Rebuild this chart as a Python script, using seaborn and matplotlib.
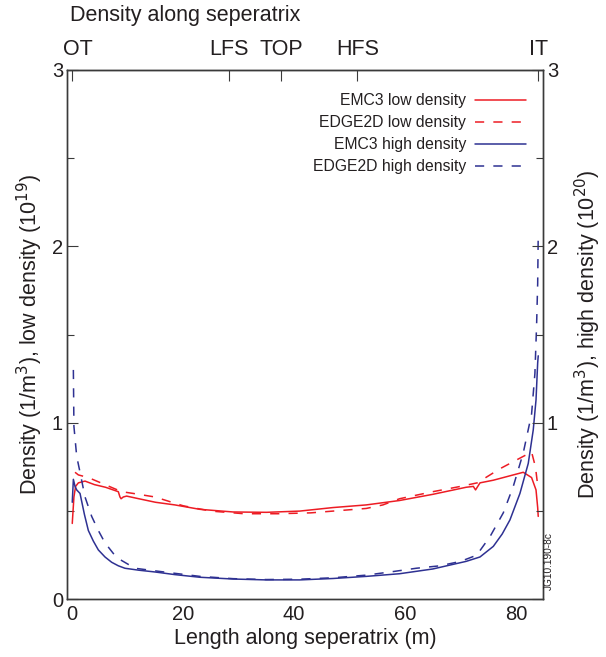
import matplotlib
matplotlib.use("Agg")
import matplotlib.pyplot as plt
import matplotlib.transforms as mtransforms
import seaborn as sns

# ---------------- data ----------------
emc3_low_x = [0.0, 0.3, 0.6, 1.1, 2.3, 4.0, 6.0, 8.3, 8.6, 8.8, 9.2, 9.8, 12.0, 15.0,
              18.5, 23.0, 29.0, 35.0, 41.0, 47.0, 53.0, 59.0, 65.0, 71.0, 72.3, 72.7,
              73.5, 75.9, 78.9, 81.3, 82.8, 83.6, 83.9, 84.0]
emc3_low_y = [0.43, 0.58, 0.64, 0.66, 0.67, 0.65, 0.635, 0.61, 0.58, 0.57, 0.58, 0.585,
              0.57, 0.55, 0.535, 0.51, 0.495, 0.493, 0.50, 0.52, 0.535, 0.56, 0.595,
              0.635, 0.64, 0.62, 0.66, 0.675, 0.70, 0.72, 0.69, 0.62, 0.52, 0.47]

edge_low_x = [0.5, 1.1, 2.9, 5.9, 8.9, 11.0, 14.9, 20.0, 25.0, 31.0, 37.0, 43.0, 47.0,
              53.0, 56.0, 59.0, 65.0, 70.0, 73.0, 77.1, 80.7, 82.8, 83.5, 84.0]
edge_low_y = [0.72, 0.705, 0.69, 0.65, 0.61, 0.60, 0.58, 0.53, 0.50, 0.485, 0.485, 0.49,
              0.50, 0.515, 0.535, 0.57, 0.61, 0.64, 0.66, 0.74, 0.80, 0.835, 0.75, 0.62]

emc3_high_x = [0.0, 0.2, 0.5, 0.8, 1.4, 2.2, 2.9, 3.8, 4.7, 5.9, 7.1, 8.3, 9.5, 12.0,
               14.9, 18.5, 23.0, 29.0, 35.0, 41.0, 47.0, 53.0, 59.0, 65.0, 71.0, 73.5,
               75.9, 77.5, 78.9, 80.7, 82.2, 83.1, 83.6, 83.9, 84.0]
emc3_high_y = [0.55, 0.68, 0.64, 0.62, 0.60, 0.48, 0.39, 0.33, 0.28, 0.24, 0.21, 0.19,
               0.176, 0.165, 0.155, 0.14, 0.125, 0.115, 0.11, 0.11, 0.118, 0.13,
               0.145, 0.172, 0.215, 0.24, 0.30, 0.37, 0.45, 0.60, 0.77, 0.96, 1.13,
               1.34, 1.38]

edge_high_x = [0.2, 0.3, 0.8, 1.4, 2.3, 3.5, 4.7, 5.9, 7.4, 8.9, 11.3, 16.5, 23.0, 29.0,
               35.0, 41.0, 47.0, 53.0, 58.0, 62.0, 66.3, 70.0, 72.9, 75.3, 77.7, 79.5,
               81.3, 82.8, 83.4, 83.7, 83.9, 84.0]
edge_high_y = [1.30, 0.98, 0.81, 0.72, 0.58, 0.47, 0.39, 0.32, 0.26, 0.22, 0.176, 0.155,
               0.13, 0.117, 0.112, 0.114, 0.122, 0.137, 0.158, 0.176, 0.19, 0.215, 0.25,
               0.355, 0.49, 0.64, 0.83, 1.05, 1.28, 1.55, 1.79, 2.07]

series_labels = ["EMC3 low density", "EDGE2D low density",
                 "EMC3 high density", "EDGE2D high density"]

x_ticks = [0, 20, 40, 60, 80]
y_ticks = [0, 1, 2, 3]
y_minor = [0.5, 1.5, 2.5]
right_labels = ["", "1", "2", "3"]
top_ticks = [0.0, 28.3, 37.6, 51.4, 84.0]
top_labels = ["OT", "LFS", "TOP", "HFS", "IT"]

# ---------------- style ----------------
sns.set_style("white")
plt.rcParams["font.family"] = ["Liberation Sans", "DejaVu Sans"]
TXT = "#231f20"
SPINE = "#3a3a3a"
RED = "#ed1c24"
BLUE = "#2e3192"

fig = plt.figure(figsize=(6.06, 6.57), dpi=100)
ax = fig.add_axes([0.111, 0.0878, 0.7845, 0.8057])

lw = 1.1
dash = (0, (6, 6))
sns.lineplot(x=emc3_low_x, y=emc3_low_y, ax=ax, color=RED, linewidth=lw,
             estimator=None, sort=False, label=series_labels[0])
sns.lineplot(x=edge_low_x, y=edge_low_y, ax=ax, color=RED, linewidth=lw,
             linestyle=dash, estimator=None, sort=False, label=series_labels[1])
sns.lineplot(x=emc3_high_x, y=emc3_high_y, ax=ax, color=BLUE, linewidth=lw,
             estimator=None, sort=False, label=series_labels[2])
sns.lineplot(x=edge_high_x, y=edge_high_y, ax=ax, color=BLUE, linewidth=lw,
             linestyle=dash, estimator=None, sort=False, label=series_labels[3])

ax.set_xlim(-0.9, 84.8)
ax.set_ylim(0, 3)
ax.set_xticks(x_ticks)
ax.set_xticklabels([str(v) for v in x_ticks])
ax.set_yticks(y_ticks)
ax.set_yticklabels([str(v) for v in y_ticks])
ax.set_yticks(y_minor, minor=True)

for s in ax.spines.values():
    s.set_color(SPINE)
    s.set_linewidth(1.0)

tick_fs = 14.5
ax.tick_params(axis="both", which="major", direction="in", length=8, width=0.8,
               colors=SPINE, labelcolor=TXT, labelsize=tick_fs)
ax.tick_params(axis="x", pad=4)
ax.tick_params(axis="y", which="major", pad=3)
ax.tick_params(axis="y", which="minor", direction="in", length=5, width=0.8,
               colors=SPINE)

ax.set_xlabel("Length along seperatrix (m)", fontsize=15.5, color=TXT, labelpad=3)
ax.set_ylabel("Density (1/m$^3$), low density (10$^{19}$)", fontsize=15.5, color=TXT)
ax.yaxis.set_label_coords(-0.047, 0.5)

# top axis with region markers
top = ax.secondary_xaxis("top")
top.set_xticks(top_ticks)
top.set_xticklabels(top_labels)
top.tick_params(direction="in", length=8, width=0.8, colors=SPINE,
                labelcolor=TXT, labelsize=15.5, pad=7)
top.spines["top"].set_color(SPINE)
lbls = top.get_xticklabels()
off = mtransforms.ScaledTranslation(6 / 100, 0, fig.dpi_scale_trans)
lbls[0].set_transform(lbls[0].get_transform() + off)

# legend (drawn on main axes)
leg = ax.legend(loc="upper right", bbox_to_anchor=(0.964, 0.956), frameon=False,
                markerfirst=False, fontsize=11.3, handlelength=3.2,
                handletextpad=0.6, labelspacing=0.45, borderpad=0,
                borderaxespad=0)
for t in leg.get_texts():
    t.set_color(TXT)

# right axis (same scale, high density units)
ax2 = ax.twinx()
ax2.set_ylim(0, 3)
ax2.set_yticks(y_ticks)
ax2.set_yticklabels(right_labels)
ax2.set_yticks(y_minor, minor=True)
ax2.tick_params(which="major", direction="in", length=8, width=0.8, colors=SPINE,
                labelcolor=TXT, labelsize=tick_fs, pad=3)
ax2.tick_params(which="minor", direction="in", length=5, width=0.8, colors=SPINE)
for s in ax2.spines.values():
    s.set_color(SPINE)
    s.set_linewidth(1.0)
ax2.set_ylabel("Density (1/m$^3$), high density (10$^{20}$)", fontsize=15.5,
               color=TXT)
ax2.yaxis.set_label_coords(1.064, 0.5)
ax2.grid(False)

# title and figure id
fig.text(69.5 / 606, 1 - 16 / 657, "Density along seperatrix", fontsize=15.5,
         color=TXT, ha="left", va="center")
ax2.text(1.014, 0.073, "JG10.190-8c", transform=ax2.transAxes, rotation=90,
         fontsize=7.3, color=TXT, ha="center", va="center")

fig.savefig("out.png", dpi=100)
